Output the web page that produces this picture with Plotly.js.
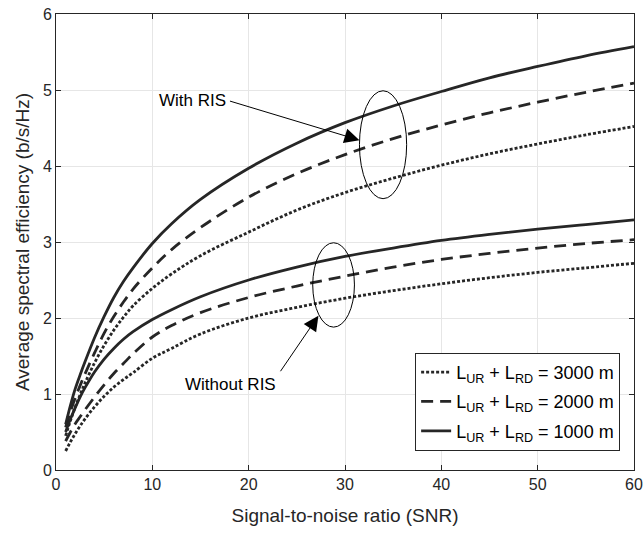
<!DOCTYPE html>
<html>
<head>
<meta charset="utf-8">
<script src="https://cdn.plot.ly/plotly-3.0.1.min.js"></script>
<style>html,body{margin:0;padding:0;background:#fff;}#chart{width:643px;height:533px;}</style>
</head>
<body>
<div id="chart"></div>
<script>
var snr = [1, 1.5, 2, 2.5, 3, 4, 5, 6, 7, 8, 10, 12, 15, 20, 25, 30, 35, 40, 45, 50, 55, 60];
var risL1000 = [0.6, 0.85, 1.07, 1.25, 1.42, 1.74, 2.02, 2.27, 2.48, 2.66, 2.98, 3.24, 3.56, 3.97, 4.3, 4.57, 4.79, 4.98, 5.16, 5.31, 5.45, 5.57];
var risL2000 = [0.56, 0.77, 0.95, 1.11, 1.26, 1.54, 1.8, 2.02, 2.21, 2.38, 2.66, 2.9, 3.19, 3.59, 3.9, 4.15, 4.36, 4.54, 4.7, 4.84, 4.97, 5.09];
var risL3000 = [0.45, 0.65, 0.83, 0.99, 1.14, 1.41, 1.64, 1.84, 2.01, 2.16, 2.39, 2.58, 2.82, 3.13, 3.42, 3.65, 3.84, 4.01, 4.16, 4.29, 4.41, 4.52];
var noRisL1000 = [0.5, 0.67, 0.82, 0.96, 1.08, 1.29, 1.46, 1.6, 1.72, 1.82, 1.98, 2.11, 2.28, 2.5, 2.67, 2.81, 2.92, 3.02, 3.1, 3.17, 3.23, 3.29];
var noRisL2000 = [0.38, 0.5, 0.61, 0.7, 0.79, 0.96, 1.12, 1.27, 1.4, 1.53, 1.75, 1.9, 2.07, 2.27, 2.42, 2.55, 2.67, 2.77, 2.85, 2.92, 2.98, 3.03];
var noRisL3000 = [0.25, 0.37, 0.48, 0.58, 0.67, 0.83, 0.97, 1.09, 1.19, 1.28, 1.47, 1.6, 1.79, 2.0, 2.14, 2.26, 2.36, 2.45, 2.53, 2.6, 2.66, 2.72];
var legendNames = ['L<sub>UR</sub> + L<sub>RD</sub> = 3000 m', 'L<sub>UR</sub> + L<sub>RD</sub> = 2000 m', 'L<sub>UR</sub> + L<sub>RD</sub> = 1000 m'];
var xTicks = [0, 10, 20, 30, 40, 50, 60];
var yTicks = [0, 1, 2, 3, 4, 5, 6];

var C = '#262626';
var dashes = ['3px,2px', '12px,7px', 'solid'];
var withRis = [risL3000, risL2000, risL1000];
var withoutRis = [noRisL3000, noRisL2000, noRisL1000];
var traces = [];
for (var i = 0; i < 3; i++) {
  traces.push({x: snr, y: withRis[i], mode: 'lines', name: legendNames[i], legendgroup: 'g' + i,
    line: {color: C, width: 2.8, dash: dashes[i], shape: 'spline', smoothing: 1}});
}
for (var i = 0; i < 3; i++) {
  traces.push({x: snr, y: withoutRis[i], mode: 'lines', name: legendNames[i], legendgroup: 'g' + i, showlegend: false,
    line: {color: C, width: 2.8, dash: dashes[i], shape: 'spline', smoothing: 1}});
}

var FONT = 'Liberation Sans, Arial, Helvetica, sans-serif';
var layout = {
  width: 643, height: 533,
  margin: {l: 56, r: 9, t: 14, b: 63},
  paper_bgcolor: '#fff', plot_bgcolor: '#fff',
  font: {family: FONT, color: C, size: 16},
  showlegend: true,
  legend: {x: 0.976, xanchor: 'right', y: 0.042, yanchor: 'bottom', bgcolor: '#fff',
    bordercolor: C, borderwidth: 1, font: {size: 18, color: '#000'}, tracegroupgap: 3, itemwidth: 30},
  xaxis: {range: [0, 60], tickvals: xTicks, ticktext: xTicks.map(String), showgrid: true, gridcolor: '#e6e6e6',
    zeroline: false, showline: true, linecolor: C, linewidth: 1, mirror: 'ticks', ticks: 'inside', ticklen: 5,
    tickcolor: C, tickfont: {size: 16, color: C},
    title: {text: 'Signal-to-noise ratio (SNR)', font: {size: 19, color: C}, standoff: 16}},
  yaxis: {range: [0, 6], tickvals: yTicks, ticktext: yTicks.map(String), showgrid: true, gridcolor: '#e6e6e6',
    zeroline: false, showline: true, linecolor: C, linewidth: 1, mirror: 'ticks', ticks: 'inside', ticklen: 5,
    tickcolor: C, tickfont: {size: 16, color: C},
    title: {text: 'Average spectral efficiency (b/s/Hz)', font: {size: 19, color: C}, standoff: 8}},
  shapes: [
    {type: 'circle', xref: 'x', yref: 'y', x0: 31.5, x1: 36.4, y0: 3.57, y1: 4.99, line: {color: '#000', width: 1}},
    {type: 'circle', xref: 'x', yref: 'y', x0: 26.65, x1: 30.98, y0: 1.88, y1: 2.99, line: {color: '#000', width: 1}}
  ],
  annotations: [
    {x: 17.9, y: 4.86, xref: 'x', yref: 'y', text: 'With RIS', showarrow: false, xanchor: 'right', yanchor: 'middle',
      font: {size: 17, color: '#000'}},
    {x: 31.5, y: 4.34, ax: 17.9, ay: 4.86, xref: 'x', yref: 'y', axref: 'x', ayref: 'y', text: '', showarrow: true,
      arrowhead: 2, arrowsize: 3, arrowwidth: 1, arrowcolor: '#000'},
    {x: 18.07, y: 1.12, xref: 'x', yref: 'y', text: 'Without RIS', showarrow: false, xanchor: 'center', yanchor: 'middle',
      font: {size: 17, color: '#000'}},
    {x: 27.24, y: 2.03, ax: 23.2, ay: 1.28, xref: 'x', yref: 'y', axref: 'x', ayref: 'y', text: '', showarrow: true,
      arrowhead: 2, arrowsize: 3, arrowwidth: 1, arrowcolor: '#000'}
  ]
};
Plotly.newPlot('chart', traces, layout, {displayModeBar: false, staticPlot: true});
</script>
</body>
</html>
